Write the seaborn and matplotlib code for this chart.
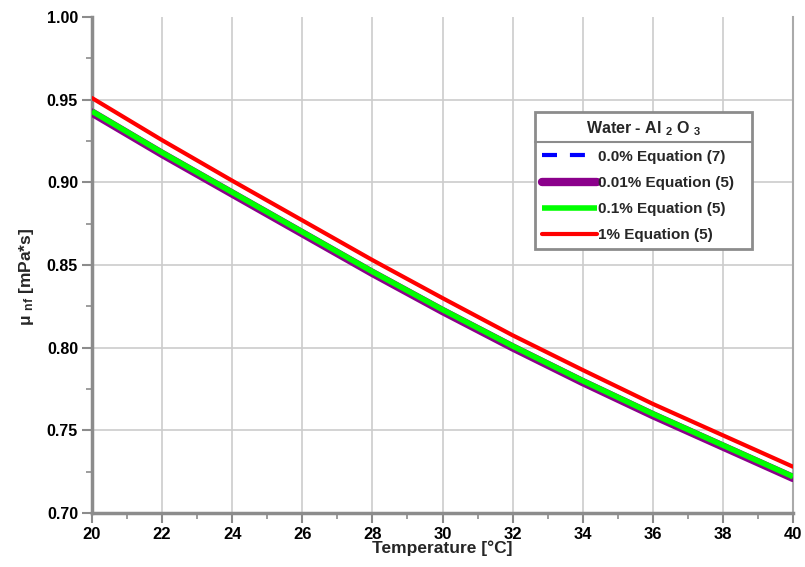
import numpy as np
import pandas as pd
import matplotlib
matplotlib.use('Agg')
import matplotlib.pyplot as plt
from matplotlib.lines import Line2D
import seaborn as sns

# datos
temperatura = [20, 22, 24, 26, 28, 30, 32, 34, 36, 38, 40]
mu_00 = [0.943, 0.918, 0.894, 0.870, 0.846, 0.823, 0.801, 0.780, 0.760, 0.741, 0.722]
mu_001 = [0.9422, 0.9172, 0.8932, 0.8692, 0.8452, 0.8222, 0.8002, 0.7792, 0.7592, 0.7402, 0.7212]
mu_01 = [0.943, 0.918, 0.894, 0.870, 0.846, 0.823, 0.801, 0.780, 0.760, 0.741, 0.722]
mu_1 = [0.951, 0.9255, 0.901, 0.877, 0.853, 0.830, 0.8075, 0.7865, 0.766, 0.747, 0.728]

etiquetas = ['0.0% Equation (7)', '0.01% Equation (5)', '0.1% Equation (5)', '1% Equation (5)']

sns.set_theme(style='white')
plt.rcParams['font.family'] = ['Liberation Sans', 'DejaVu Sans']
plt.rcParams['font.weight'] = 'bold'
plt.rcParams['mathtext.fontset'] = 'custom'
plt.rcParams['mathtext.rm'] = 'Liberation Sans:bold'
plt.rcParams['mathtext.it'] = 'Liberation Sans:bold'
plt.rcParams['mathtext.default'] = 'rm'

fig = plt.figure(figsize=(8.05, 5.67), dpi=100)
ax = fig.add_axes([0.1143, 0.0952, 0.8708, 0.8748])

df = pd.DataFrame({'T': temperatura, 'm0': mu_00, 'm001': mu_001, 'm01': mu_01, 'm1': mu_1})

sns.lineplot(data=df, x='T', y='m0', ax=ax, color='#0000ff', lw=3, label=etiquetas[0], zorder=3)
ax.lines[-1].set_dashes([3.6, 3.1])
sns.lineplot(data=df, x='T', y='m001', ax=ax, color='#8b008b', lw=6, label=etiquetas[1],
             zorder=4, solid_capstyle='round')
sns.lineplot(data=df, x='T', y='m01', ax=ax, color='#00ff00', lw=4, label=etiquetas[2],
             zorder=5, solid_capstyle='butt')
sns.lineplot(data=df, x='T', y='m1', ax=ax, color='#ff0000', lw=3, label=etiquetas[3],
             zorder=6)

ax.set_xlim(20, 40)
ax.set_ylim(0.70, 1.00)
ax.set_xticks(np.arange(20, 41, 2))
ax.set_xticks(np.arange(20, 41, 1), minor=True)
ax.set_yticks(np.arange(0.70, 1.001, 0.05))
ax.set_yticks(np.arange(0.70, 1.001, 0.025), minor=True)
ax.set_yticklabels([f'{v:.2f}' for v in np.arange(0.70, 1.001, 0.05)])
ax.grid(True, which='major', color='#cccccc', lw=1.2)

ax.spines['top'].set_visible(False)
ax.spines['right'].set_color('#aaaaaa')
ax.spines['right'].set_linewidth(1.5)
for lado in ['left', 'bottom']:
    ax.spines[lado].set_color('#8c8c8c')
    ax.spines[lado].set_linewidth(2.5)

ax.tick_params(which='major', direction='out', length=7, width=1.5, color='#8c8c8c',
               labelsize=11.5, labelcolor='black', left=True, bottom=True, pad=3)
ax.tick_params(which='minor', direction='out', length=4, width=1.2, color='#8c8c8c',
               left=True, bottom=True)
for t in ax.get_yticklabels():
    t.set_fontweight('bold')
for t in ax.get_xticklabels():
    t.set_fontweight('bold')
    t.set_fontsize(12)

ax.set_xlabel('Temperature [°C]', fontsize=12.5, fontweight='bold', labelpad=-1)
ax.set_ylabel('μ $_{nf}$ [mPa*s]', fontsize=12.5, fontweight='bold')
ax.yaxis.set_label_coords(-0.08, 0.476)

leg = ax.legend(loc='upper left', bbox_to_anchor=(0.632, 0.5665, 0.3095, 0.242),
                mode='expand', borderaxespad=0, title='Water - Al $_2$ O $_3$',
                fontsize=11, title_fontsize=11.5, handlelength=3.6, handletextpad=0.1,
                labelspacing=0.8, borderpad=0.45, fancybox=False, framealpha=1,
                edgecolor='#8c8c8c', alignment='center')
leg.get_frame().set_linewidth(2)
leg.get_title().set_fontweight('bold')
for t in leg.get_texts():
    t.set_fontweight('bold')
leg.legend_handles[0].set_dashes([3.6, 3.1])

# quitar la linea de rejilla en 1.00
fig.canvas.draw()
ax.yaxis.get_gridlines()[-1].set_visible(False)

# linea bajo el titulo de la leyenda
caja = leg.get_frame().get_window_extent()
tit = leg.get_title().get_window_extent()
inv = fig.transFigure.inverted()
x0, y0 = inv.transform((caja.x0, tit.y0 - 4))
x1, _ = inv.transform((caja.x1, tit.y0 - 4))
fig.add_artist(Line2D([x0, x1], [y0, y0], color='#8c8c8c', lw=1.5, zorder=10))

plt.savefig('out.png', dpi=100)
plt.close()
